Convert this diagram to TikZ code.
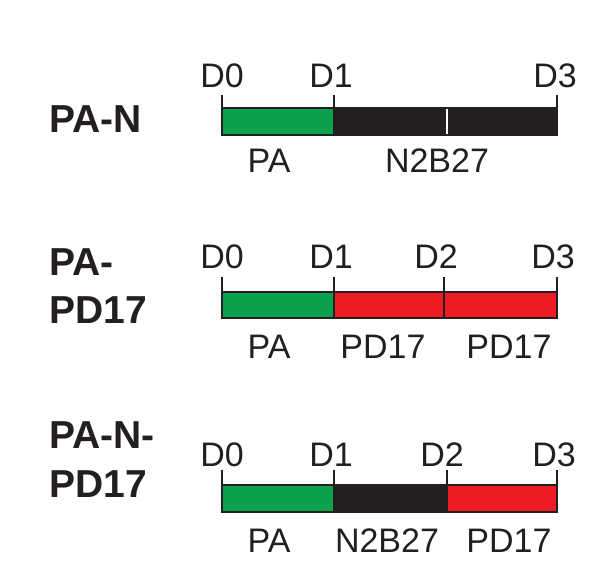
\documentclass[tikz,border=0pt]{standalone}
\usepackage{fontspec}
\setmainfont{Liberation Sans}
\definecolor{pagreen}{RGB}{12,161,75}
\definecolor{pdred}{RGB}{237,28,36}
\definecolor{nblack}{RGB}{35,31,32}
\definecolor{outl}{RGB}{35,31,32}
\tikzset{
  seg/.style={draw=outl, line width=1.3pt},
  tickline/.style={draw=outl, line width=1.3pt},
  dlab/.style={anchor=base, inner sep=0pt, font=\fontsize{34}{40}\selectfont, text=nblack},
  slab/.style={anchor=base, inner sep=0pt, font=\fontsize{34}{40}\selectfont, text=nblack},
  rowlab/.style={anchor=base west, inner sep=0pt, font=\fontsize{39}{46}\selectfont\bfseries, text=nblack}
}
\begin{document}
\begin{tikzpicture}[x=1pt,y=-1pt]
\useasboundingbox (0,0) rectangle (593,572);
% ---------- Row 1: PA-N ----------
\node[rowlab] (n1) at (49,132) {PA-N};
\path[seg, fill=pagreen] (222,108) rectangle (334,135);
\path[seg, fill=nblack] (334,108) rectangle (557,135);
\draw[white, line width=2.4pt] (447,108.8) -- (447,134.2);
\coordinate (r1t0) at (222,95); \coordinate (r1b0) at (222,108);
\coordinate (r1t1) at (334,95); \coordinate (r1b1) at (334,108);
\coordinate (r1t3) at (557,95); \coordinate (r1b3) at (557,108);
\draw[tickline] (r1t0) -- (r1b0);
\draw[tickline] (r1t1) -- (r1b1);
\draw[tickline] (r1t3) -- (r1b3);
\node[dlab] (r1d0) at (222,88) {D0};
\node[dlab] (r1d1) at (331,88) {D1};
\node[dlab] (r1d3) at (555,88) {D3};
\node[slab] (r1pa) at (269,172) {PA};
\node[slab] (r1n) at (437,172) {N2B27};
% ---------- Row 2: PA-PD17 ----------
\node[rowlab] (n2a) at (49,275) {PA-};
\node[rowlab] (n2b) at (49,323) {PD17};
\path[seg, fill=pagreen] (222,292) rectangle (334,318);
\path[seg, fill=pdred] (334,292) rectangle (444,318);
\path[seg, fill=pdred] (444,292) rectangle (557,318);
\coordinate (r2t0) at (222,277); \coordinate (r2b0) at (222,292);
\coordinate (r2t1) at (334,277); \coordinate (r2b1) at (334,292);
\coordinate (r2t2) at (444,277); \coordinate (r2b2) at (444,292);
\coordinate (r2t3) at (557,277); \coordinate (r2b3) at (557,292);
\draw[tickline] (r2t0) -- (r2b0);
\draw[tickline] (r2t1) -- (r2b1);
\draw[tickline] (r2t2) -- (r2b2);
\draw[tickline] (r2t3) -- (r2b3);
\node[dlab] (r2d0) at (222,268) {D0};
\node[dlab] (r2d1) at (331,268) {D1};
\node[dlab] (r2d2) at (436,268) {D2};
\node[dlab] (r2d3) at (553,268) {D3};
\node[slab] (r2pa) at (269,358) {PA};
\node[slab] (r2p1) at (383,358) {PD17};
\node[slab] (r2p2) at (509,358) {PD17};
% ---------- Row 3: PA-N-PD17 ----------
\node[rowlab] (n3a) at (49,448) {PA-N-};
\node[rowlab] (n3b) at (49,497) {PD17};
\path[seg, fill=pagreen] (222,485) rectangle (334,512);
\path[seg, fill=nblack] (334,485) rectangle (447,512);
\path[seg, fill=pdred] (447,485) rectangle (557,512);
\coordinate (r3t0) at (222,470); \coordinate (r3b0) at (222,485);
\coordinate (r3t1) at (334,470); \coordinate (r3b1) at (334,485);
\coordinate (r3t2) at (447,470); \coordinate (r3b2) at (447,485);
\coordinate (r3t3) at (557,470); \coordinate (r3b3) at (557,485);
\draw[tickline] (r3t0) -- (r3b0);
\draw[tickline] (r3t1) -- (r3b1);
\draw[tickline] (r3t2) -- (r3b2);
\draw[tickline] (r3t3) -- (r3b3);
\node[dlab] (r3d0) at (222,466) {D0};
\node[dlab] (r3d1) at (331,466) {D1};
\node[dlab] (r3d2) at (442,466) {D2};
\node[dlab] (r3d3) at (554,466) {D3};
\node[slab] (r3pa) at (269,552) {PA};
\node[slab] (r3n) at (387,552) {N2B27};
\node[slab] (r3p) at (509,552) {PD17};
\end{tikzpicture}
\end{document}
